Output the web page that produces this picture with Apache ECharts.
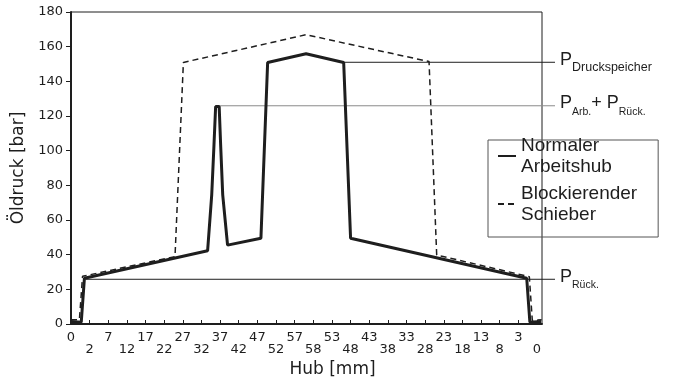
<!DOCTYPE html>
<html lang="de">
<head>
    <meta charset="UTF-8">
    <title>Öldruck über Hub</title>
    <script type="text/javascript" src="https://cdn.jsdelivr.net/npm/echarts@6/dist/echarts.min.js"></script>
</head>
<body style="margin:0">
<div id="main" style="width:676px;height:385px;"></div>
</body>

<script>
    // Hub-Achse: Positionen 0..25, Beschriftung hin (0->58) und zurueck (58->0)
    const hubLabels = ['0', '2', '7', '12', '17', '22', '27', '32', '37', '42', '47', '52', '57',
        '58', '53', '48', '43', '38', '33', '28', '23', '18', '13', '8', '3', '0'];

    // Normaler Arbeitshub (x = Position auf der Achse, y = bar)
    const normalX = [0, 0.55, 0.72, 7.33, 7.55, 7.67, 7.76, 7.95, 8.03, 8.14, 8.40, 10.19, 10.55, 12.61, 14.63, 15.0, 24.45, 24.62, 25.22];
    const normalY = [1.5, 1, 26.4, 42.3, 74.5, 103, 125.5, 125.5, 103, 74.5, 45.5, 49.5, 150.9, 155.9, 150.9, 49.5, 26.4, 1, 1.5];

    // Blockierender Schieber
    const blockX = [0, 0.45, 0.62, 5.58, 6.03, 12.61, 19.21, 19.62, 24.59, 24.75, 25.25];
    const blockY = [2.5, 2.5, 27.5, 38.9, 150.9, 166.9, 151.4, 39.8, 27.3, 2, 2.5];

    // Referenzdruecke: Wert, Startposition (Linien laufen bis ueber den Rahmen hinaus)
    const refNames = ['Druckspeicher', 'ArbRueck', 'Rueck'];
    const refValues = [151, 125.9, 25.8];
    const refStart = [14.63, 7.95, 0.72];
    const refEnd = 25.95;

    const ink = '#1e1e1e';
    const tickFont = 'DejaVu Sans';
    const textFont = '"Liberation Sans", Arial, sans-serif';

    function zip(xs, ys) {
        return xs.map((x, i) => [x, ys[i]]);
    }

    const refLabels = {
        Druckspeicher: '{p|P}{s|Druckspeicher}',
        ArbRueck: '{p|P}{t|Arb.}{p|+ P}{t|Rück.}',
        Rueck: '{p|P}{t|Rück.}'
    };
    const refColors = {Druckspeicher: ink, ArbRueck: '#8a8a8a', Rueck: ink};

    // eigenes (unsichtbares) Grid, etwas breiter, damit die Linien ueber den Rahmen ragen
    const refSeries = refNames.map((n, i) => ({
        name: n,
        type: 'line',
        xAxisIndex: 1,
        yAxisIndex: 1,
        silent: true,
        symbol: 'none',
        z: 1,
        data: [[refStart[i], refValues[i]], [refEnd, refValues[i]]],
        lineStyle: {width: 1, color: refColors[n]},
        endLabel: {
            show: true,
            distance: 5,
            formatter: () => refLabels[n],
            rich: {
                p: {fontFamily: textFont, fontSize: 18, color: ink, verticalAlign: 'bottom', padding: [0, 0, 5, 0]},
                s: {fontFamily: textFont, fontSize: 12.5, color: ink, verticalAlign: 'bottom'},
                t: {fontFamily: textFont, fontSize: 10.5, color: ink, verticalAlign: 'bottom'}
            }
        }
    }));

    const tickPos = hubLabels.map((l, i) => i);

    let myChart = echarts.init(document.getElementById('main'));
    let option = {
        animation: false,
        backgroundColor: '#fff',
        grid: [
            {left: 71, right: 134, top: 12, bottom: 61, show: true, borderColor: ink, borderWidth: 1},
            {left: 71, right: 121, top: 12, bottom: 61}
        ],
        legend: {
            data: ['Normaler Arbeitshub', 'Blockierender Schieber'],
            orient: 'vertical',
            left: 488,
            top: 140,
            padding: [-12, 21, 5, 9],
            itemGap: -8,
            itemWidth: 18,
            itemHeight: 14,
            borderColor: '#555',
            borderWidth: 1,
            // nur die Linie im Legendensymbol, kein Punkt
            itemStyle: {opacity: 0, borderWidth: 0},
            formatter: name => name.replace(' ', '\n'),
            textStyle: {fontFamily: textFont, fontSize: 19, lineHeight: 21, color: ink, padding: [14, 0, 0, 0]}
        },
        xAxis: [{
            type: 'value',
            min: 0,
            max: 25.27,
            name: 'Hub [mm]',
            nameLocation: 'middle',
            nameGap: 37,
            nameTextStyle: {fontFamily: tickFont, fontSize: 17, color: ink, padding: [0, 0, 0, 52]},
            axisLine: {lineStyle: {color: ink, width: 2}},
            axisTick: {inside: true, length: 4, customValues: tickPos, lineStyle: {color: ink}},
            axisLabel: {
                customValues: tickPos,
                margin: 7,
                formatter: v => {
                    let i = Math.round(v);
                    return (i % 2 === 0 ? '{hi|' : '{lo|') + hubLabels[i] + '}';
                },
                rich: {
                    hi: {fontFamily: tickFont, fontSize: 13, color: ink},
                    lo: {fontFamily: tickFont, fontSize: 13, color: ink, padding: [12, 0, 0, 0]}
                }
            },
            splitLine: {show: false}
        }, {
            type: 'value',
            gridIndex: 1,
            min: 0,
            max: refEnd,
            show: false
        }],
        yAxis: [{
            type: 'value',
            min: 0,
            max: 180,
            interval: 20,
            name: 'Öldruck [bar]',
            nameLocation: 'middle',
            nameGap: 36,
            nameTextStyle: {fontFamily: tickFont, fontSize: 17, color: ink},
            axisLine: {show: true, lineStyle: {color: ink, width: 2}},
            axisTick: {show: true, length: 5, lineStyle: {color: ink}},
            axisLabel: {fontFamily: tickFont, fontSize: 13, color: ink, margin: 8},
            splitLine: {show: false}
        }, {
            type: 'value',
            gridIndex: 1,
            min: 0,
            max: 180,
            show: false
        }],
        series: [
            {
                name: 'Normaler Arbeitshub',
                type: 'line',
                symbol: 'none',
                z: 3,
                data: zip(normalX, normalY),
                lineStyle: {width: 3, color: ink},
                itemStyle: {color: ink}
            },
            {
                name: 'Blockierender Schieber',
                type: 'line',
                symbol: 'none',
                z: 2,
                data: zip(blockX, blockY),
                lineStyle: {width: 1.5, color: ink, type: [6, 4]},
                itemStyle: {color: ink}
            }
        ].concat(refSeries)
    };
    myChart.setOption(option);
</script>
</html>
